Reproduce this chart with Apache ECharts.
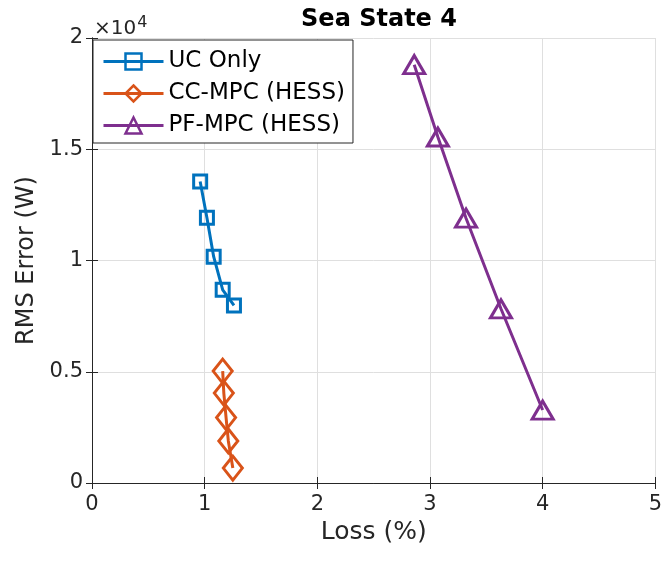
<!DOCTYPE html>
<html>
<head>
<meta charset="utf-8">
<script src="https://cdn.jsdelivr.net/npm/echarts@6/dist/echarts.min.js"></script>
<style>
html,body{margin:0;padding:0;background:#fff;}
#chart{width:665px;height:571px;}
</style>
</head>
<body>
<div id="chart"></div>
<script>
// values: loss (%) and RMS error (W)
var ucLoss = [0.96, 1.02, 1.08, 1.16, 1.26];
var ucErr = [13550, 11920, 10170, 8680, 7980];
var ccLoss = [1.16, 1.17, 1.19, 1.21, 1.25];
var ccErr = [5030, 4040, 2940, 1890, 670];
var pfLoss = [2.86, 3.07, 3.32, 3.63, 4.00];
var pfErr = [18800, 15550, 11900, 7830, 3280];
var seriesNames = ['UC Only', 'CC-MPC (HESS)', 'PF-MPC (HESS)'];
var colors = ['#0072BD', '#D95319', '#7E2F8E'];

var axisCol = '#262626';
var font = '"DejaVu Sans", "Liberation Sans", Arial, sans-serif';

function pairs(xs, ys) {
	var out = [];
	for (var i = 0; i < xs.length; i++) out.push([xs[i], ys[i]]);
	return out;
}

function mkSeries(name, data, color, symbol, size) {
	return {
		name: name,
		type: 'line',
		data: data,
		symbol: symbol,
		symbolSize: size,
		showSymbol: true,
		z: 3,
		lineStyle: { color: color, width: 3 },
		itemStyle: { color: 'rgba(255,255,255,0)', borderColor: color, borderWidth: 3 },
		emphasis: { disabled: true },
		animation: false
	};
}

var chart = echarts.init(document.getElementById('chart'));
var option = {
	animation: false,
	backgroundColor: '#fff',
	textStyle: { fontFamily: font },
	title: {
		text: 'Sea State 4',
		left: 374,
		top: 3,
		textAlign: 'center',
		textStyle: { fontSize: 24, fontWeight: 'bold', color: '#000', fontFamily: font }
	},
	grid: { left: 92, right: 9, top: 38, bottom: 88, containLabel: false },
	legend: {
		orient: 'vertical',
		left: 93,
		top: 40,
		padding: [10, 8, 6, 9],
		itemGap: 9,
		itemWidth: 60,
		itemHeight: 20,
		borderColor: axisCol,
		borderWidth: 1,
		backgroundColor: '#fff',
		lineStyle: { width: 3 },
		itemStyle: { borderWidth: 2.5 },
		textStyle: { fontSize: 23, color: '#000', fontFamily: font },
		data: seriesNames
	},
	graphic: [{
		type: 'text',
		left: 94,
		top: 15,
		style: {
			text: '×10{s|4}',
			fill: axisCol,
			font: '20px ' + font,
			rich: { s: { fontSize: 16, verticalAlign: 'top', padding: [0, 0, 12, 1], fill: axisCol, fontFamily: font } }
		}
	}],
	xAxis: [{
		type: 'value',
		min: 0, max: 5, interval: 1,
		name: 'Loss (%)',
		nameLocation: 'middle',
		nameGap: 31,
		nameTextStyle: { fontSize: 25, color: axisCol, fontFamily: font },
		axisLine: { show: true, lineStyle: { color: axisCol, width: 1 } },
		axisTick: { show: true, inside: true, length: 6, lineStyle: { color: axisCol } },
		axisLabel: { fontSize: 21, color: axisCol, margin: 11, fontFamily: font },
		splitLine: { show: true, lineStyle: { color: '#dfdfdf', width: 1 } }
	}, {
		type: 'value',
		position: 'top',
		min: 0, max: 5, interval: 1,
		axisLine: { show: true, lineStyle: { color: axisCol, width: 1 } },
		axisTick: { show: true, inside: true, length: 6, lineStyle: { color: axisCol } },
		axisLabel: { show: false },
		splitLine: { show: false }
	}],
	yAxis: [{
		type: 'value',
		min: 0, max: 20000, interval: 5000,
		name: 'RMS Error (W)',
		nameLocation: 'middle',
		nameGap: 52,
		nameTextStyle: { fontSize: 24, color: axisCol, fontFamily: font },
		axisLine: { show: true, lineStyle: { color: axisCol, width: 1 } },
		axisTick: { show: true, inside: true, length: 6, lineStyle: { color: axisCol } },
		axisLabel: {
			fontSize: 21, color: axisCol, margin: 9, fontFamily: font,
			formatter: function(v) { return String(v / 10000); }
		},
		splitLine: { show: true, lineStyle: { color: '#dfdfdf', width: 1 } }
	}, {
		type: 'value',
		position: 'right',
		min: 0, max: 20000, interval: 5000,
		axisLine: { show: true, lineStyle: { color: axisCol, width: 1 } },
		axisTick: { show: true, inside: true, length: 6, lineStyle: { color: axisCol } },
		axisLabel: { show: false },
		splitLine: { show: false }
	}],
	series: [
		mkSeries(seriesNames[0], pairs(ucLoss, ucErr), colors[0], 'rect', 13),
		mkSeries(seriesNames[1], pairs(ccLoss, ccErr), colors[1], 'diamond', [19, 24]),
		mkSeries(seriesNames[2], pairs(pfLoss, pfErr), colors[2], 'triangle', [21, 18])
	]
};
chart.setOption(option);
</script>
</body>
</html>
